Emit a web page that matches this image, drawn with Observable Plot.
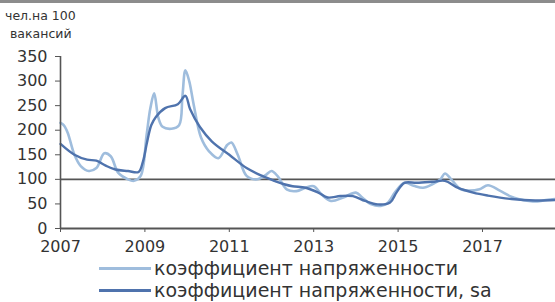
<!DOCTYPE html>
<html><head><meta charset="utf-8">
<script src="https://cdn.jsdelivr.net/npm/d3@7"></script>
<script src="https://cdn.jsdelivr.net/npm/@observablehq/plot@0.6"></script>
<style>
body{margin:0;background:#fff;font-family:"DejaVu Sans",sans-serif;}
#wrap{position:relative;width:555px;height:302px;overflow:hidden;background:#fff;}
#topbar{position:absolute;left:0;top:0;width:555px;height:3px;background:#8c8c8c;}
#chart{position:absolute;left:0;top:0;}
.ttl{position:absolute;font-size:12.5px;color:#333;white-space:nowrap;}
.leg{position:absolute;left:99px;font-size:19px;line-height:22px;color:#333;white-space:nowrap;display:flex;align-items:center;}
.leg .sw{display:inline-block;width:52px;height:3px;margin-right:3px;}
</style></head>
<body><div id="wrap">
<div id="topbar"></div>
<div id="chart"></div>
<div class="ttl" style="left:5px;top:8px;">чел.на 100</div>
<div class="ttl" style="left:10px;top:26px;">вакансий</div>
<div id="legend"></div>
</div>
<script>
const rawYears = [2007.0,2007.08,2007.17,2007.33,2007.48,2007.67,2007.85,2008.04,2008.19,2008.37,2008.6,2008.74,2008.9,2009.04,2009.13,2009.22,2009.32,2009.42,2009.63,2009.81,2009.89,2009.96,2010.05,2010.15,2010.33,2010.52,2010.74,2010.95,2011.05,2011.2,2011.41,2011.63,2011.85,2012.0,2012.15,2012.37,2012.59,2012.81,2013.0,2013.19,2013.41,2013.7,2014.0,2014.15,2014.37,2014.59,2014.75,2014.93,2015.15,2015.37,2015.59,2015.81,2016.0,2016.11,2016.26,2016.48,2016.7,2016.93,2017.13,2017.41,2017.65,2017.85,2018.1,2018.3,2018.5,2018.73];
const rawValues = [215,210,195,150,127,117,123,153,147,113,100,97,107,190,245,275,225,207,203,210,270,322,300,255,185,157,143,170,175,150,107,100,108,117,106,79,76,83,86,69,56,63,73,63,49,46,52,74,93,87,83,90,100,112,100,80,77,80,88,77,66,60,56,55,58,60];
const saYears = [2007.0,2007.33,2007.63,2007.85,2008.07,2008.3,2008.6,2008.85,2008.95,2009.05,2009.15,2009.26,2009.48,2009.78,2009.96,2010.07,2010.3,2010.59,2011.0,2011.41,2011.78,2012.07,2012.3,2012.5,2012.81,2013.11,2013.33,2013.63,2013.93,2014.22,2014.52,2014.81,2014.96,2015.15,2015.44,2015.81,2016.11,2016.41,2016.78,2017.13,2017.69,2018.25,2018.73];
const saValues = [172,150,140,138,128,120,117,115,135,175,210,227,245,253,270,243,207,177,150,123,107,97,90,86,83,73,63,66,66,56,49,53,73,93,93,95,97,83,73,67,60,57,58];
const yearTicks = [2007,2009,2011,2013,2015,2017];
const valueTicks = [0,50,100,150,200,250,300,350];
const seriesNames = ["коэффициент напряженности","коэффициент напряженности, sa"];
const seriesColors = ["#9fbddd","#4f73ad"];
const referenceLevel = [100];

const raw = rawYears.map((x,i)=>({x, y: rawValues[i]}));
const sa = saYears.map((x,i)=>({x, y: saValues[i]}));

const plot = Plot.plot({
  width: 555, height: 258,
  marginLeft: 60, marginRight: 0, marginTop: 56, marginBottom: 30,
  style: {fontFamily: '"DejaVu Sans", sans-serif', fontSize: "16px", color: "#333", background: "transparent"},
  x: {domain: [2007, 2018.73], label: null},
  y: {domain: [0, 350], label: null},
  marks: [
    Plot.ruleY(referenceLevel, {stroke: "#555", strokeWidth: 1.6}),
    Plot.line(raw, {x: "x", y: "y", stroke: seriesColors[0], strokeWidth: 2.6, curve: "catmull-rom"}),
    Plot.line(sa, {x: "x", y: "y", stroke: seriesColors[1], strokeWidth: 2.4, curve: "catmull-rom"}),
    Plot.ruleX([2007], {stroke: "#555", strokeWidth: 1.6}),
    Plot.ruleY([0], {stroke: "#555", strokeWidth: 1.8}),
    Plot.axisX({ticks: yearTicks, tickFormat: d => String(d), tickSize: 4, tickPadding: 8, stroke: "#555", fill: "#333"}),
    Plot.axisY({ticks: valueTicks, tickSize: 5, tickPadding: 8, stroke: "#555", fill: "#333"})
  ]
});
document.getElementById("chart").appendChild(plot);

const legend = document.getElementById("legend");
seriesNames.forEach((name, i) => {
  const row = document.createElement("div");
  row.className = "leg";
  row.style.top = (257 + i * 22) + "px";
  const sw = document.createElement("span");
  sw.className = "sw";
  sw.style.background = seriesColors[i];
  row.appendChild(sw);
  row.appendChild(document.createTextNode(name));
  legend.appendChild(row);
});
</script>
</body></html>
